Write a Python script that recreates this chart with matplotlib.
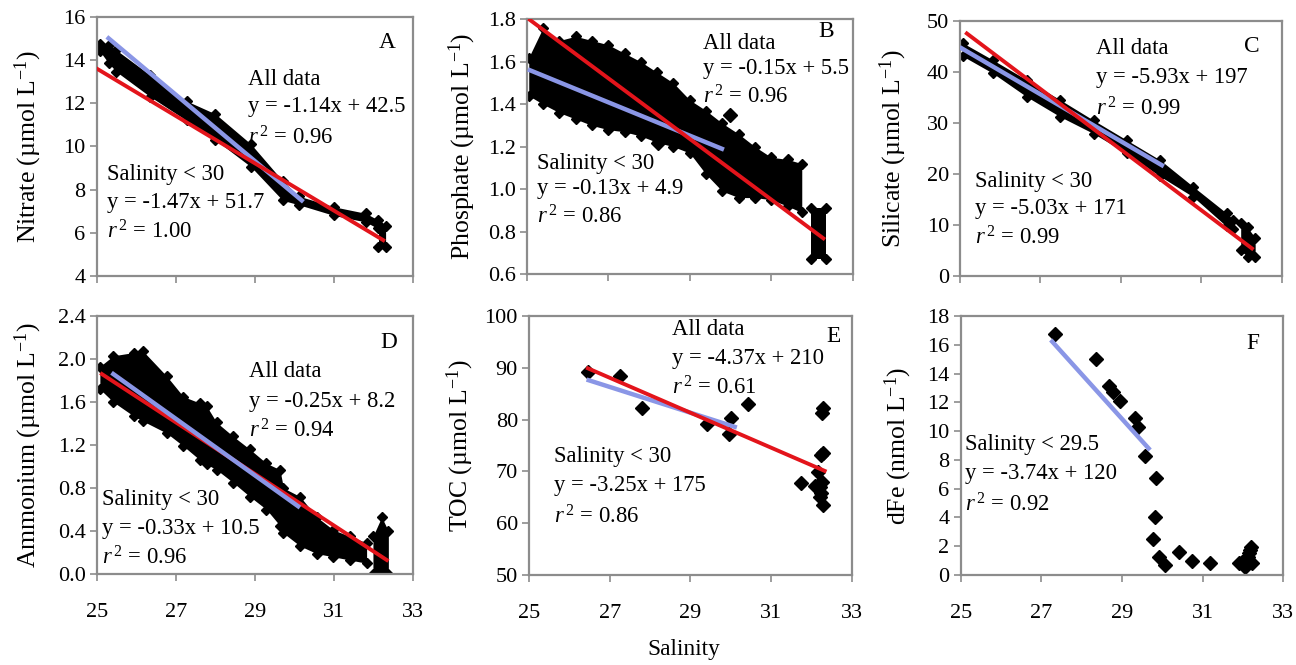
import matplotlib
matplotlib.use('Agg')
import matplotlib.pyplot as plt

plt.rcParams['font.family'] = ['Liberation Serif', 'DejaVu Serif']
plt.rcParams['mathtext.fontset'] = 'custom'
plt.rcParams['mathtext.rm'] = 'Liberation Serif'
plt.rcParams['mathtext.it'] = 'Liberation Serif:italic'
plt.rcParams['mathtext.bf'] = 'Liberation Serif:bold'

# ---------------- data ----------------
# Panel A: nitrate cloud envelope
nitrate_sal = [25.08, 25.3, 25.5, 26.35, 27.27, 28.0, 28.9, 29.7, 30.1, 31.0, 31.8, 32.1]
nitrate_hi = [14.75, 14.7, 14.45, 13.3, 12.1, 11.5, 10.1, 8.4, 7.7, 7.2, 6.9, 6.6]
nitrate_lo = [14.4, 13.85, 13.45, 12.3, 11.2, 10.3, 9.05, 7.5, 7.3, 6.8, 6.5, 6.2]
nitrate_end_sal = [32.12, 32.3]
nitrate_end_lo = [5.35, 5.35]
nitrate_end_hi = [6.4, 6.3]
nitrate_all_x = [25.0, 32.24]
nitrate_all_y = [13.6, 5.66]
nitrate_low_x = [25.3, 30.18]
nitrate_low_y = [15.0, 7.5]

# Panel B: phosphate
phos_sal = [25.05, 25.4, 25.8, 26.2, 26.6, 27.0, 27.4, 27.8, 28.2, 28.6, 29.0, 29.4,
            29.8, 30.2, 30.6, 31.0, 31.4, 31.75]
phos_hi = [1.62, 1.76, 1.70, 1.72, 1.70, 1.68, 1.64, 1.60, 1.55, 1.50, 1.42, 1.37,
           1.31, 1.26, 1.20, 1.15, 1.14, 1.12]
phos_lo = [1.44, 1.40, 1.36, 1.33, 1.30, 1.28, 1.27, 1.25, 1.22, 1.20, 1.17, 1.07,
           0.99, 0.96, 0.96, 0.95, 0.92, 0.89]
phos_end_sal = [31.97, 32.35]
phos_end_lo = [0.67, 0.67]
phos_end_hi = [0.91, 0.91]
phos_extra_sal = [28.23, 29.99]
phos_extra_val = [1.215, 1.35]
phos_all_x = [25.08, 32.28]
phos_all_y = [1.797, 0.768]
phos_low_x = [25.08, 29.79]
phos_low_y = [1.56, 1.19]

# Panel C: silicate
sil_sal = [25.08, 25.82, 26.66, 27.49, 28.32, 29.15, 29.98, 30.80, 31.63, 31.80]
sil_hi = [45.6, 42.3, 38.4, 34.5, 30.5, 26.6, 22.7, 17.5, 12.3, 11.0]
sil_lo = [43.0, 39.7, 35.1, 31.2, 27.9, 24.0, 19.5, 15.5, 9.7, 9.2]
sil_end_sal = [31.98, 32.15, 32.34]
sil_end_lo = [5.0, 3.8, 3.7]
sil_end_hi = [10.4, 9.5, 7.5]
sil_all_x = [25.17, 32.26]
sil_all_y = [47.5, 5.4]
sil_low_x = [25.04, 30.02]
sil_low_y = [44.6, 21.7]

# Panel D: ammonium
amm_sal = [25.08, 25.42, 25.93, 26.18, 26.77, 27.19, 27.61, 27.78, 28.03, 28.45, 28.87,
           29.29, 29.63, 29.72, 30.14, 30.56, 30.98, 31.40, 31.82]
amm_hi = [1.93, 2.03, 2.06, 2.07, 1.84, 1.65, 1.59, 1.56, 1.41, 1.28, 1.16,
          1.03, 0.97, 0.80, 0.72, 0.53, 0.41, 0.35, 0.29]
amm_lo = [1.72, 1.60, 1.47, 1.42, 1.31, 1.19, 1.06, 1.02, 0.97, 0.85, 0.72,
          0.60, 0.45, 0.38, 0.26, 0.19, 0.16, 0.13, 0.10]
amm_end_sal = [31.98, 32.2, 32.37]
amm_end_lo = [0.0, 0.0, 0.0]
amm_end_hi = [0.35, 0.53, 0.4]
amm_all_x = [25.13, 32.33]
amm_all_y = [1.86, 0.13]
amm_low_x = [25.42, 30.09]
amm_low_y = [1.86, 0.63]

# Panel E: TOC
toc_sal = [26.46, 27.25, 27.81, 29.42, 29.96, 30.0, 30.43, 31.75, 32.17, 32.21, 32.29,
           32.27, 32.29, 32.25, 32.27, 32.17, 32.25, 32.29, 32.21, 32.08]
toc_val = [89.25, 88.4, 82.2, 79.15, 77.3, 80.4, 83.0, 67.7, 69.95, 67.05, 82.2,
           81.2, 73.6, 73.2, 68.0, 67.4, 65.8, 63.5, 65.1, 67.1]
toc_all_x = [26.46, 32.33]
toc_all_y = [89.9, 70.1]
toc_low_x = [26.48, 30.1]
toc_low_y = [87.6, 78.6]

# Panel F: dFe
fe_sal = [27.33, 28.35, 28.67, 28.77, 28.96, 29.31, 29.39, 29.56, 29.85, 29.83, 29.77,
          29.92, 30.06, 30.41, 30.73, 31.18, 31.89, 31.97, 32.05, 32.12, 32.17, 32.2,
          32.1, 32.03, 32.22, 32.15]
fe_val = [16.73, 14.99, 13.16, 12.7, 12.12, 10.93, 10.31, 8.29, 6.77, 4.06, 2.48,
          1.23, 0.70, 1.58, 1.0, 0.81, 0.81, 0.93, 0.58, 1.28, 1.74, 1.97,
          1.05, 0.7, 0.81, 1.5]
fe_low_x = [27.27, 29.66]
fe_low_y = [16.22, 8.8]

RED = '#e3141b'
BLUE = '#8a96e6'
GRAY = '#8c8c8c'
FS = 16        # tick labels
AFS = 16.3     # annotations
LFS = 18.5     # axis labels

W, H = 1296, 665
fig = plt.figure(figsize=(12.96, 6.65), dpi=100)


def add_ax(l, r, t, b):
    return fig.add_axes([l / W, 1 - b / H, (r - l) / W, (b - t) / H])


def style(ax, ylim, yticks, yfmt, bottom_labels):
    ax.set_xlim(25, 33)
    ax.set_ylim(*ylim)
    ax.set_xticks([25, 27, 29, 31, 33])
    ax.set_yticks(yticks)
    ax.set_yticklabels([yfmt.format(v) for v in yticks])
    for s in ax.spines.values():
        s.set_color(GRAY)
        s.set_linewidth(1.6)
    ax.tick_params(axis='both', direction='out', color=GRAY, width=1.2,
                   length=5, labelsize=FS)
    ax.tick_params(axis='y', pad=3)
    ax.tick_params(axis='x', pad=16)
    if not bottom_labels:
        ax.set_xticklabels([])


def cloud(ax, xs, lo, hi, ms=5):
    ax.fill_between(xs, lo, hi, color='black', lw=0, zorder=2)
    ax.plot(xs, lo, 'D', color='black', ms=ms, zorder=2)
    ax.plot(xs, hi, 'D', color='black', ms=ms, zorder=2)


def texts(ax, lines, x, ys):
    for t, y in zip(lines, ys):
        ax.text(x, y, t, transform=ax.transAxes, ha='left', va='center',
                fontsize=AFS, zorder=5)


def letter(ax, s, x, y):
    ax.text(x, y, s, transform=ax.transAxes, ha='center', va='center',
            fontsize=AFS + 0.5, zorder=5)


def ylab(ax, s, xpix):
    ax.set_ylabel(s, fontsize=LFS, va='center', ha='center')
    bbox = ax.get_position()
    x0 = bbox.x0 * W
    wid = bbox.width * W
    ax.yaxis.set_label_coords((xpix - x0) / wid, 0.5)


def r2(v):
    return r'$r^{\,2}$' + ' = ' + v


# Panel A
axA = add_ax(96.7, 413.3, 16.7, 276)
style(axA, (4, 16), [4, 6, 8, 10, 12, 14, 16], '{:.0f}', False)
cloud(axA, nitrate_sal, nitrate_lo, nitrate_hi)
cloud(axA, nitrate_end_sal, nitrate_end_lo, nitrate_end_hi)
axA.plot(nitrate_low_x, nitrate_low_y, color=BLUE, lw=3.2, zorder=3)
axA.plot(nitrate_all_x, nitrate_all_y, color=RED, lw=2.8, zorder=4)
texts(axA, ['All data', 'y = -1.14x + 42.5', r2('0.96')], 0.478, [0.756, 0.652, 0.532])
texts(axA, ['Salinity < 30', 'y = -1.47x + 51.7', r2('1.00')], 0.033, [0.39, 0.285, 0.17])
letter(axA, 'A', 0.916, 0.899)
ylab(axA, r'Nitrate (µmol L$^{\mathregular{-1}}$)', 28)

# Panel B
axB = add_ax(526.7, 852.7, 19.3, 274)
style(axB, (0.6, 1.8), [0.6, 0.8, 1.0, 1.2, 1.4, 1.6, 1.8], '{:.1f}', False)
cloud(axB, phos_sal, phos_lo, phos_hi)
cloud(axB, phos_end_sal, phos_end_lo, phos_end_hi)
axB.plot(phos_extra_sal, phos_extra_val, 'D', color='black', ms=7, zorder=2)
axB.plot(phos_low_x, phos_low_y, color=BLUE, lw=3.2, zorder=3)
axB.plot(phos_all_x, phos_all_y, color=RED, lw=2.8, zorder=4)
texts(axB, ['All data', 'y = -0.15x + 5.5', r2('0.96')], 0.542, [0.906, 0.808, 0.696])
texts(axB, ['Salinity < 30', 'y = -0.13x + 4.9', r2('0.86')], 0.033, [0.435, 0.336, 0.225])
letter(axB, 'B', 0.92, 0.952)
ylab(axB, r'Phosphate (µmol L$^{\mathregular{-1}}$)', 462)

# Panel C
axC = add_ax(960, 1281.7, 20.7, 276)
style(axC, (0, 50), [0, 10, 20, 30, 40, 50], '{:.0f}', False)
cloud(axC, sil_sal, sil_lo, sil_hi)
cloud(axC, sil_end_sal, sil_end_lo, sil_end_hi)
axC.plot(sil_low_x, sil_low_y, color=BLUE, lw=3.2, zorder=3)
axC.plot(sil_all_x, sil_all_y, color=RED, lw=2.8, zorder=4)
texts(axC, ['All data', 'y = -5.93x + 197', r2('0.99')], 0.423, [0.89, 0.779, 0.655])
texts(axC, ['Salinity < 30', 'y = -5.03x + 171', r2('0.99')], 0.047, [0.37, 0.265, 0.148])
letter(axC, 'C', 0.907, 0.898)
ylab(axC, r'Silicate (µmol L$^{\mathregular{-1}}$)', 893)

# Panel D
axD = add_ax(96.7, 413.3, 316, 574)
style(axD, (0, 2.4), [0.0, 0.4, 0.8, 1.2, 1.6, 2.0, 2.4], '{:.1f}', True)
cloud(axD, amm_sal, amm_lo, amm_hi)
cloud(axD, amm_end_sal, amm_end_lo, amm_end_hi)
axD.plot(amm_all_x, amm_all_y, color=RED, lw=2.8, zorder=3)
axD.plot(amm_low_x, amm_low_y, color=BLUE, lw=3.2, zorder=4)
texts(axD, ['All data', 'y = -0.25x + 8.2', r2('0.94')], 0.482, [0.786, 0.67, 0.553])
texts(axD, ['Salinity < 30', 'y = -0.33x + 10.5', r2('0.96')], 0.016, [0.288, 0.178, 0.061])
letter(axD, 'D', 0.921, 0.896)
ylab(axD, r'Ammonium (µmol L$^{\mathregular{-1}}$)', 28)

# Panel E
axE = add_ax(529, 851.7, 316, 575)
style(axE, (50, 100), [50, 60, 70, 80, 90, 100], '{:.0f}', True)
axE.plot(toc_sal, toc_val, 'D', color='black', ms=7, zorder=2)
axE.plot(toc_low_x, toc_low_y, color=BLUE, lw=3.2, zorder=3)
axE.plot(toc_all_x, toc_all_y, color=RED, lw=2.8, zorder=4)
texts(axE, ['All data', 'y = -4.37x + 210', r2('0.61')], 0.444, [0.946, 0.837, 0.721])
texts(axE, ['Salinity < 30', 'y = -3.25x + 175', r2('0.86')], 0.077, [0.457, 0.347, 0.225])
letter(axE, 'E', 0.943, 0.92)
ylab(axE, r'TOC (µmol L$^{\mathregular{-1}}$)', 460)

# Panel F
axF = add_ax(960.7, 1283.3, 316, 575)
style(axF, (0, 18), [0, 2, 4, 6, 8, 10, 12, 14, 16, 18], '{:.0f}', True)
axF.plot(fe_sal, fe_val, 'D', color='black', ms=7, zorder=2)
axF.plot(fe_low_x, fe_low_y, color=BLUE, lw=3.2, zorder=3)
texts(axF, ['Salinity < 29.5', 'y = -3.74x + 120', r2('0.92')], 0.013, [0.502, 0.392, 0.27])
letter(axF, 'F', 0.907, 0.894)
ylab(axF, r'dFe (nmol L$^{\mathregular{-1}}$)', 898)

fig.text(684 / W, 1 - 650 / H, 'Salinity', ha='center', va='center', fontsize=AFS + 0.5)

fig.savefig('out.png', dpi=100)
